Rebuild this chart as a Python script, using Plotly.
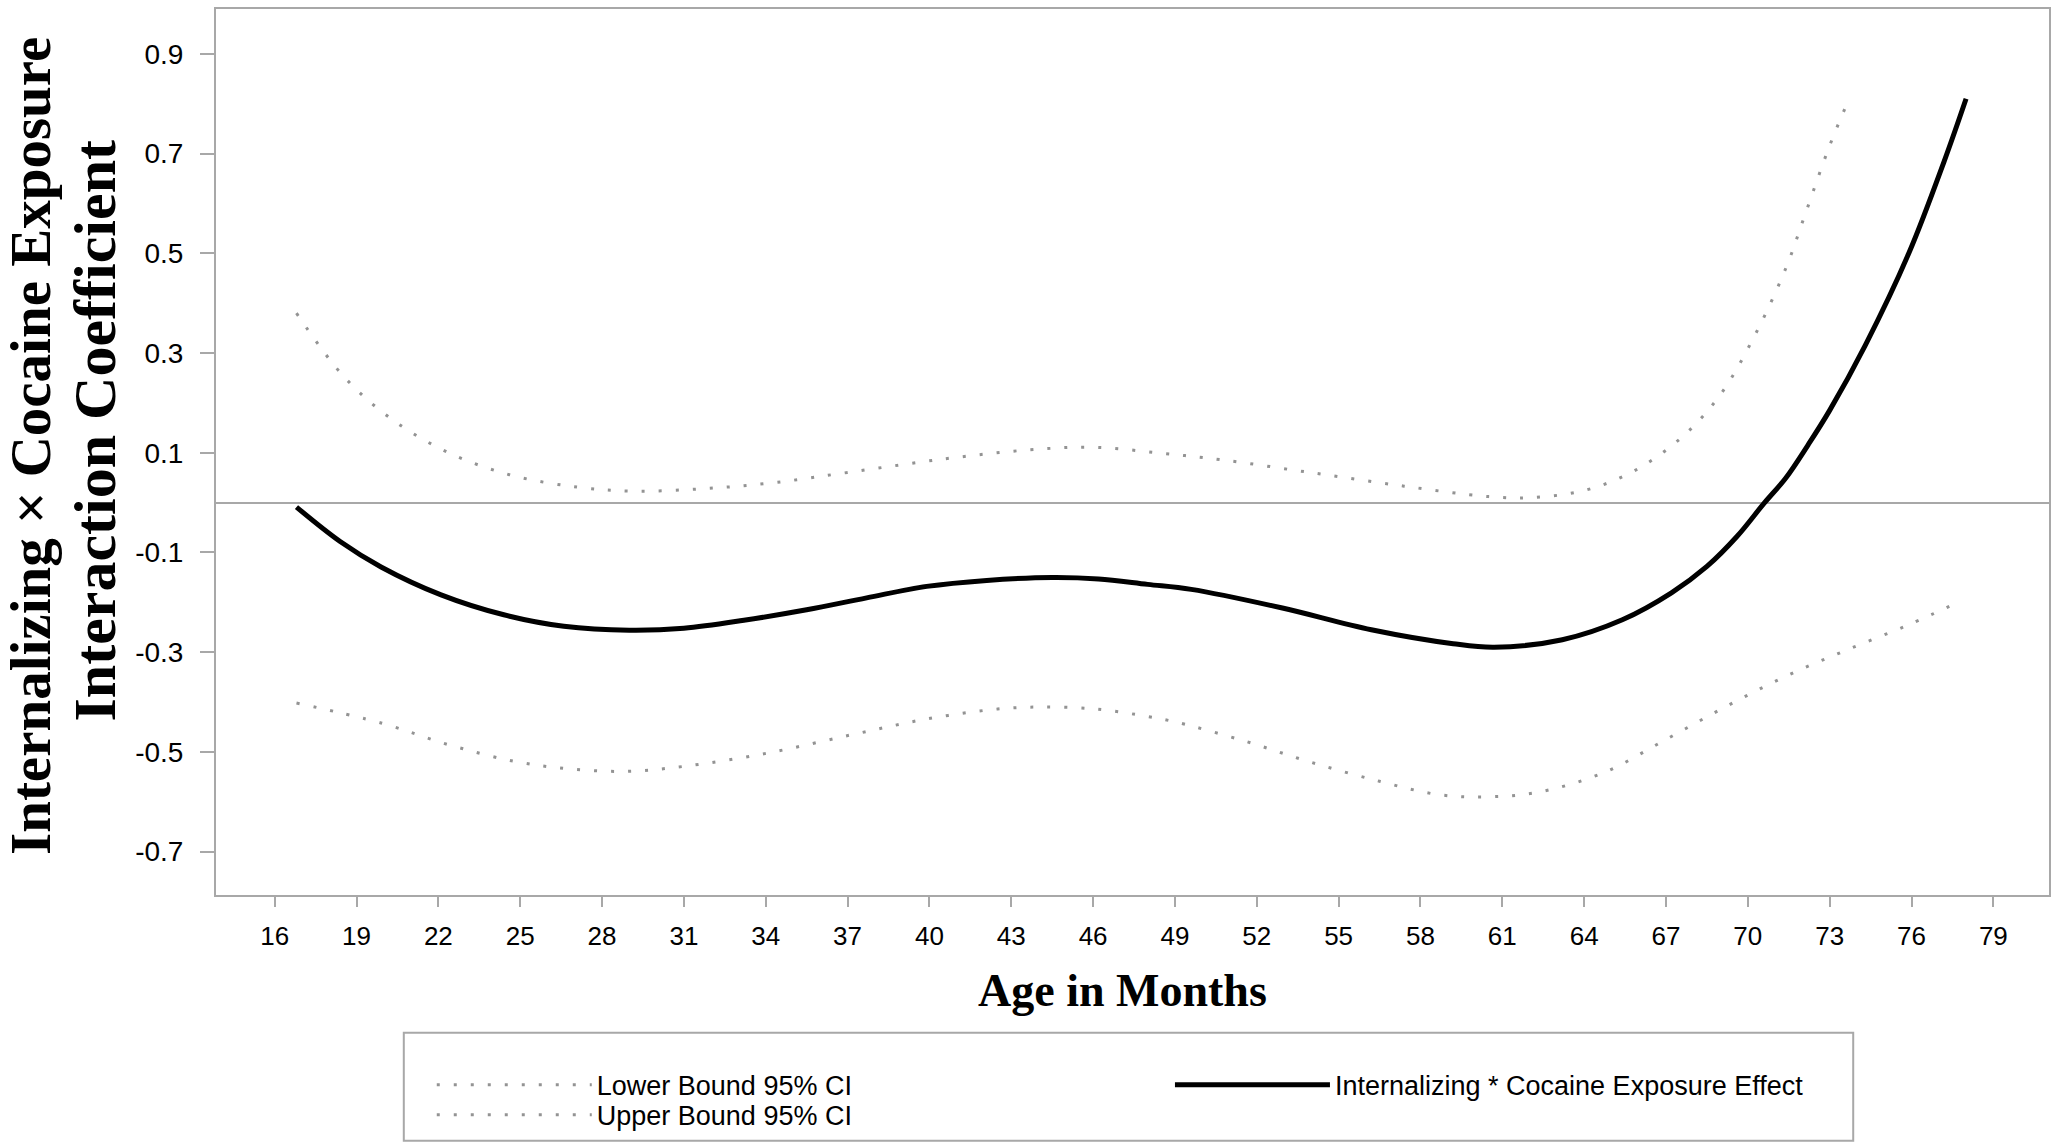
import plotly.graph_objects as go

# ---- data ----
est_x = [16.8, 18.4, 19.9, 22.1, 24.4, 26.6, 29.0, 31.0, 33.2, 35.5, 37.7, 39.9, 42.1, 44.5,
         46.2, 48.0, 49.6, 52.9, 56.2, 59.2, 60.7, 63.2, 65.4, 67.2, 68.5, 69.6, 70.6, 71.4,
         72.2, 73.0, 74.3, 75.9, 77.2, 78.0]
est_y = [-0.009, -0.078, -0.129, -0.185, -0.225, -0.248, -0.256, -0.252, -0.236, -0.215, -0.191,
         -0.168, -0.156, -0.150, -0.153, -0.164, -0.174, -0.211, -0.255, -0.283, -0.290, -0.275,
         -0.235, -0.181, -0.128, -0.068, -0.001, 0.050, 0.115, 0.185, 0.315, 0.500, 0.685, 0.810]

up_x = [16.8, 18.5, 20.2, 22.3, 24.6, 27.1, 29.2, 31.75, 34.3, 37.2, 40.6, 43.7, 46.05, 48.5,
        50.7, 54.0, 57.4, 60.5, 62.05, 64.05, 65.85, 67.6, 69.0, 70.3, 71.4, 72.1, 73.0, 73.65]
up_y = [0.380, 0.255, 0.171, 0.102, 0.056, 0.031, 0.023, 0.028, 0.040, 0.062, 0.088, 0.106,
        0.111, 0.099, 0.086, 0.060, 0.033, 0.012, 0.010, 0.025, 0.064, 0.132, 0.217, 0.340,
        0.471, 0.578, 0.716, 0.802]

lo_x = [16.8, 19.9, 22.4, 24.8, 26.8, 28.9, 31.0, 34.1, 37.2, 39.9, 42.5, 44.1, 46.1, 48.0,
        49.1, 51.6, 54.0, 56.5, 58.7, 60.5, 62.3, 64.7, 67.0, 69.2, 71.4, 73.65, 75.9, 77.66]
lo_y = [-0.402, -0.442, -0.486, -0.519, -0.534, -0.539, -0.529, -0.502, -0.465, -0.434, -0.414,
        -0.410, -0.414, -0.429, -0.441, -0.479, -0.521, -0.559, -0.586, -0.590, -0.581, -0.542,
        -0.475, -0.409, -0.348, -0.295, -0.245, -0.201]

x_ticks = list(range(16, 80, 3))
y_ticks = [0.9, 0.7, 0.5, 0.3, 0.1, -0.1, -0.3, -0.5, -0.7]
y_tick_text = ["0.9", "0.7", "0.5", "0.3", "0.1", "-0.1", "-0.3", "-0.5", "-0.7"]

names = ["Lower Bound 95% CI", "Upper Bound 95% CI", "Internalizing * Cocaine Exposure Effect"]
y_title_1 = "Internalizing \u00d7 Cocaine Exposure"
y_title_2 = "Interaction Coefficient"
x_title = "Age in Months"

# ---- styling ----
W, H = 2055, 1144
ML, MR, MT, MB = 216, 4, 9, 248
PW, PH = W - ML - MR, H - MT - MB
GRAY = "#a8a8a8"
DOT = "#939393"
SANS = "Liberation Sans, Arial, sans-serif"
SERIF = "Liberation Serif, Times New Roman, serif"
LEG_FONT = dict(family=SANS, size=27, color="black")
ITEMW = 155


def px_x(p):
    return (p - ML) / PW


def px_y(p):
    return (H - MB - p) / PH


def leg(x_left, row_center):
    return dict(orientation="v", x=px_x(x_left), xanchor="left", y=px_y(row_center - 22),
                yanchor="top", bgcolor="rgba(0,0,0,0)", borderwidth=0, itemwidth=ITEMW,
                font=LEG_FONT)


fig = go.Figure()
fig.add_trace(go.Scatter(x=lo_x, y=lo_y, mode="lines", name=names[0], line_shape="spline",
                         line=dict(color=DOT, width=3, dash="3px,14px"), legend="legend"))
fig.add_trace(go.Scatter(x=up_x, y=up_y, mode="lines", name=names[1], line_shape="spline",
                         line=dict(color=DOT, width=3, dash="3px,14px"), legend="legend3"))
fig.add_trace(go.Scatter(x=est_x, y=est_y, mode="lines", name=names[2], line_shape="spline",
                         line=dict(color="black", width=5), legend="legend2"))

fig.update_layout(
    width=W, height=H,
    margin=dict(l=ML, r=MR, t=MT, b=MB, pad=0),
    paper_bgcolor="white", plot_bgcolor="white",
    font=dict(family=SANS, size=26, color="black"),
    xaxis=dict(range=[13.85, 81.04], tickvals=x_ticks, ticks="outside", ticklen=10,
               tickwidth=2, tickcolor=GRAY, showline=True, linecolor=GRAY, linewidth=2,
               mirror=True, showgrid=False, zeroline=False, ticklabelstandoff=7,
               tickfont=dict(family=SANS, size=26, color="black")),
    yaxis=dict(range=[-0.787, 0.99], tickvals=y_ticks, ticktext=y_tick_text, ticks="outside",
               ticklen=14, tickwidth=2, tickcolor=GRAY, showline=True, linecolor=GRAY,
               linewidth=2, mirror=True, showgrid=False, zeroline=True, zerolinecolor=GRAY,
               zerolinewidth=2, ticklabelstandoff=11,
               tickfont=dict(family=SANS, size=28, color="black")),
    legend=leg(432, 1084),
    legend3=leg(432, 1114),
    legend2=leg(1171, 1084),
    showlegend=True,
)

# legend frame
fig.add_shape(type="rect", xref="paper", yref="paper",
              x0=px_x(404), x1=px_x(1855), y0=px_y(1034), y1=px_y(1142),
              line=dict(color=GRAY, width=2), fillcolor="rgba(0,0,0,0)", layer="below")

# axis titles
fig.add_annotation(text="<b>" + x_title + "</b>", xref="paper", yref="paper", x=0.5, y=0,
                   xanchor="center", yanchor="middle", xshift=-10, yshift=-95,
                   showarrow=False, font=dict(family=SERIF, size=46, color="black"))
fig.add_annotation(text="<b>" + y_title_1 + "</b>", xref="paper", yref="paper", x=0, y=0.5,
                   xanchor="center", yanchor="middle", xshift=-186, yshift=6, textangle=-90,
                   showarrow=False, font=dict(family=SERIF, size=57, color="black"))
fig.add_annotation(text="<b>" + y_title_2 + "</b>", xref="paper", yref="paper", x=0, y=0.5,
                   xanchor="center", yanchor="middle", xshift=-122, yshift=21.5, textangle=-90,
                   showarrow=False, font=dict(family=SERIF, size=60, color="black"))

fig.write_html("out.html", config={"displayModeBar": False},
               post_script="document.body.style.margin='0';")
